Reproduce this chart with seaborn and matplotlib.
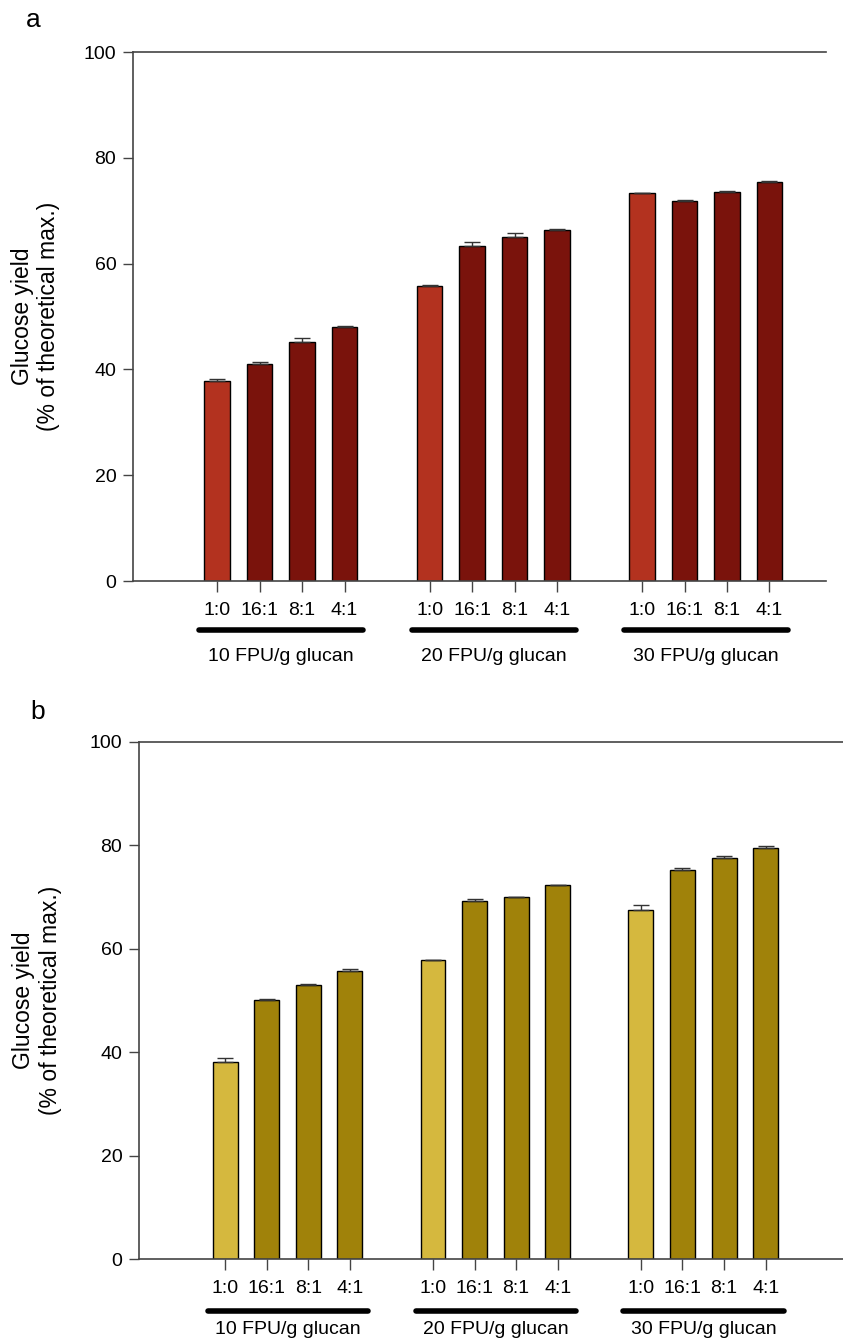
import numpy as np
import pandas as pd
import matplotlib
matplotlib.use("Agg")
import matplotlib.pyplot as plt
import matplotlib.transforms as mtransforms
import seaborn as sns

# ---- data ----
ratios = ["1:0", "16:1", "8:1", "4:1"]
loadings = ["10 FPU/g glucan", "20 FPU/g glucan", "30 FPU/g glucan"]

yield_a = [37.8, 41.0, 45.2, 48.0,
           55.8, 63.3, 65.0, 66.3,
           73.3, 71.8, 73.5, 75.4]
err_a = [0.3, 0.4, 0.8, 0.2,
         0.2, 0.8, 0.8, 0.3,
         0.1, 0.2, 0.2, 0.3]

yield_b = [38.1, 50.1, 53.0, 55.7,
           57.8, 69.2, 70.0, 72.3,
           67.5, 75.2, 77.6, 79.5]
err_b = [0.8, 0.1, 0.2, 0.3,
         0.1, 0.4, 0.1, 0.1,
         1.0, 0.5, 0.4, 0.3]

colors_a = {"control": "#B3321F", "mix": "#7A130C"}
colors_b = {"control": "#D5B83E", "mix": "#A0820A"}

sns.set_theme(style="white")
plt.rcParams['font.family'] = ['Liberation Sans', 'DejaVu Sans']
plt.rcParams['text.color'] = 'black'
plt.rcParams['axes.labelcolor'] = 'black'
plt.rcParams['xtick.color'] = 'black'
plt.rcParams['ytick.color'] = 'black'

fig = plt.figure(figsize=(8.43, 13.42), dpi=100)
W, H = 843, 1342


def make_axes(l, r, t, b):
    return fig.add_axes([l / W, 1 - b / H, (r - l) / W, (b - t) / H])


ax_a = make_axes(133, 826, 52, 581)
ax_b = make_axes(139, 843, 742, 1259)

# positions: 4 bars per group, one empty slot between groups
pos = []
for g in range(len(loadings)):
    for i in range(len(ratios)):
        pos.append(g * (len(ratios) + 1) + i)
pos = np.array(pos, dtype=float)


def draw(ax, vals, errs, pal, xlim, line_y, text_y, letter, letter_xy, lab_x):
    df = pd.DataFrame({
        "pos": pos,
        "val": vals,
        "kind": ["control" if i % 4 == 0 else "mix" for i in range(len(vals))],
    })
    sns.barplot(data=df, x="pos", y="val", hue="kind", palette=pal,
                native_scale=True, dodge=False, width=0.6, saturation=1,
                edgecolor="black", linewidth=1.0, legend=False, ax=ax,
                errorbar=None)
    ax.errorbar(pos, vals, yerr=[np.zeros(len(errs)), errs], fmt="none",
                ecolor="#333333", elinewidth=1.0, capsize=6, capthick=1.0,
                zorder=5)
    ax.set_xlim(*xlim)
    ax.set_ylim(0, 100)
    ax.set_yticks([0, 20, 40, 60, 80, 100])
    ax.set_xticks(pos)
    ax.set_xticklabels(ratios * len(loadings), fontsize=14)
    ax.tick_params(axis="y", labelsize=14, direction="out", length=7,
                   width=1, color="#444444", labelcolor="black", left=True,
                   pad=5)
    ax.tick_params(axis="x", direction="out", length=8, width=1,
                   color="#444444", labelcolor="black", bottom=True, pad=7)
    ax.set_xlabel("")
    ax.set_ylabel("Glucose yield\n(% of theoretical max.)", fontsize=16.5,
                  linespacing=1.2, color="black")
    ax.yaxis.set_label_coords(lab_x, 0.5)
    for s in ["left", "bottom", "top"]:
        ax.spines[s].set_visible(True)
        ax.spines[s].set_color("#444444")
        ax.spines[s].set_linewidth(1.2)
    ax.spines["right"].set_visible(False)

    trans = mtransforms.blended_transform_factory(ax.transData, ax.transAxes)
    for g, lab in enumerate(loadings):
        x0 = pos[g * 4] - 0.42
        x1 = pos[g * 4 + 3] + 0.44
        ax.plot([x0, x1], [line_y, line_y], color="black", lw=4,
                solid_capstyle="round", transform=trans, clip_on=False)
        ax.text((x0 + x1) / 2, text_y, lab, transform=trans, ha="center",
                va="center", fontsize=14, color="black")
    fig.text(letter_xy[0] / W, 1 - letter_xy[1] / H, letter, fontsize=19,
             ha="left", va="center", color="black")


draw(ax_a, yield_a, err_a, colors_a, (-1.98, 14.33), -0.093, -0.142,
     "a", (26, 20), -0.105)
draw(ax_b, yield_b, err_b, colors_b, (-2.07, 14.86), -0.1, -0.137,
     "b", (30, 712), -0.11)

fig.savefig("out.png", dpi=100)
